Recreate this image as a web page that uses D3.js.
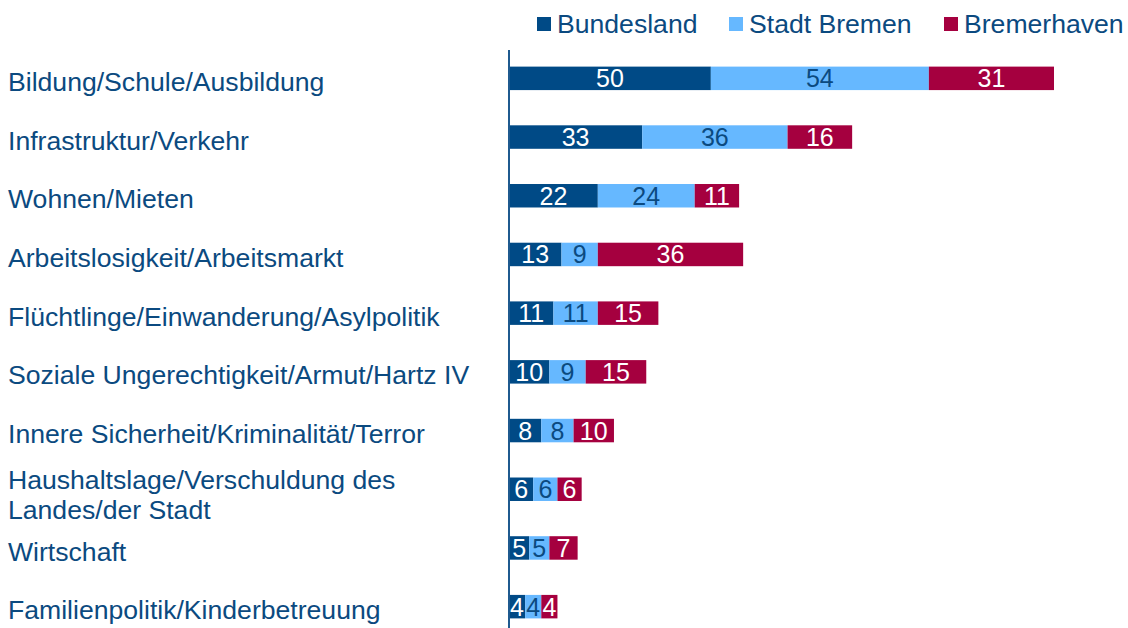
<!DOCTYPE html>
<html>
<head>
<meta charset="utf-8">
<script src="https://cdn.jsdelivr.net/npm/d3@7"></script>
<style>
  body { margin: 0; background: #fff; }
  text { font-family: "Liberation Sans", Arial, sans-serif; }
</style>
</head>
<body>
<script>
// DATA
const categories = [
  "Bildung/Schule/Ausbildung",
  "Infrastruktur/Verkehr",
  "Wohnen/Mieten",
  "Arbeitslosigkeit/Arbeitsmarkt",
  "Flüchtlinge/Einwanderung/Asylpolitik",
  "Soziale Ungerechtigkeit/Armut/Hartz IV",
  "Innere Sicherheit/Kriminalität/Terror",
  "Haushaltslage/Verschuldung des\nLandes/der Stadt",
  "Wirtschaft",
  "Familienpolitik/Kinderbetreuung"
];
const seriesNames = ["Bundesland", "Stadt Bremen", "Bremerhaven"];
const bundesland = [50, 33, 22, 13, 11, 10, 8, 6, 5, 4];
const stadtBremen = [54, 36, 24, 9, 11, 9, 8, 6, 5, 4];
const bremerhaven = [31, 16, 11, 36, 15, 15, 10, 6, 7, 4];

const width = 1128;
const height = 628;
const left = 509;
const COLORS = ["#004a86", "#66b8ff", "#a5003f"];
const LABEL_COLORS = ["#ffffff", "#0b4a80", "#ffffff"];
const TEXT_COLOR = "#0b4a80";

const rows = categories.map((c, i) => ({
  cat: c,
  values: [bundesland[i], stadtBremen[i], bremerhaven[i]]
}));

const svg = d3.select("body").append("svg")
  .attr("width", width)
  .attr("height", height);

// SCALES
const xScale = d3.scaleLinear().domain([0, 135]).range([left, 1054]);
const yScale = d3.scaleBand()
  .domain(categories)
  .range([49, 636])
  .paddingInner(0.6)
  .paddingOuter(0.3);

// BARS
const rowG = svg.selectAll("g.row")
  .data(rows)
  .enter()
  .append("g")
  .attr("class", "row")
  .attr("transform", (d) => `translate(0,${yScale(d.cat)})`);

rowG.each(function (d) {
  const g = d3.select(this);
  let acc = 0;
  d.values.forEach((v, k) => {
    const x0 = xScale(acc);
    const x1 = xScale(acc + v);
    g.append("rect")
      .attr("x", x0)
      .attr("y", 0)
      .attr("width", x1 - x0)
      .attr("height", yScale.bandwidth())
      .attr("fill", COLORS[k]);
    g.append("text")
      .attr("x", (x0 + x1) / 2)
      .attr("y", yScale.bandwidth() / 2)
      .attr("dy", "0.36em")
      .attr("text-anchor", "middle")
      .attr("font-size", 25)
      .attr("fill", LABEL_COLORS[k])
      .text(v);
    acc += v;
  });
});

// CATEGORY LABELS
rowG.each(function (d) {
  const lines = d.cat.split("\n");
  const lh = 30;
  const shift = lines.length > 1 ? 5 : 3;
  const t = d3.select(this).append("text")
    .attr("x", 8)
    .attr("font-size", 26.6)
    .attr("fill", TEXT_COLOR);
  lines.forEach((line, i) => {
    t.append("tspan")
      .attr("x", 8)
      .attr("y", yScale.bandwidth() / 2 + (i - (lines.length - 1) / 2) * lh + shift)
      .attr("dy", "0.36em")
      .text(line);
  });
});

// AXIS LINE
svg.append("line")
  .attr("x1", left).attr("x2", left)
  .attr("y1", 50).attr("y2", height)
  .attr("stroke", "#1f5a8f")
  .attr("stroke-width", 2);

// LEGEND
const legendX = [537, 729, 944];
const legend = svg.append("g").attr("transform", "translate(0,24)");
seriesNames.forEach((name, k) => {
  legend.append("rect")
    .attr("x", legendX[k])
    .attr("y", -7)
    .attr("width", 14)
    .attr("height", 14)
    .attr("fill", COLORS[k]);
  legend.append("text")
    .attr("x", legendX[k] + 20)
    .attr("y", 0)
    .attr("dy", "0.33em")
    .attr("font-size", 26.6)
    .attr("fill", TEXT_COLOR)
    .text(name);
});
</script>
</body>
</html>
